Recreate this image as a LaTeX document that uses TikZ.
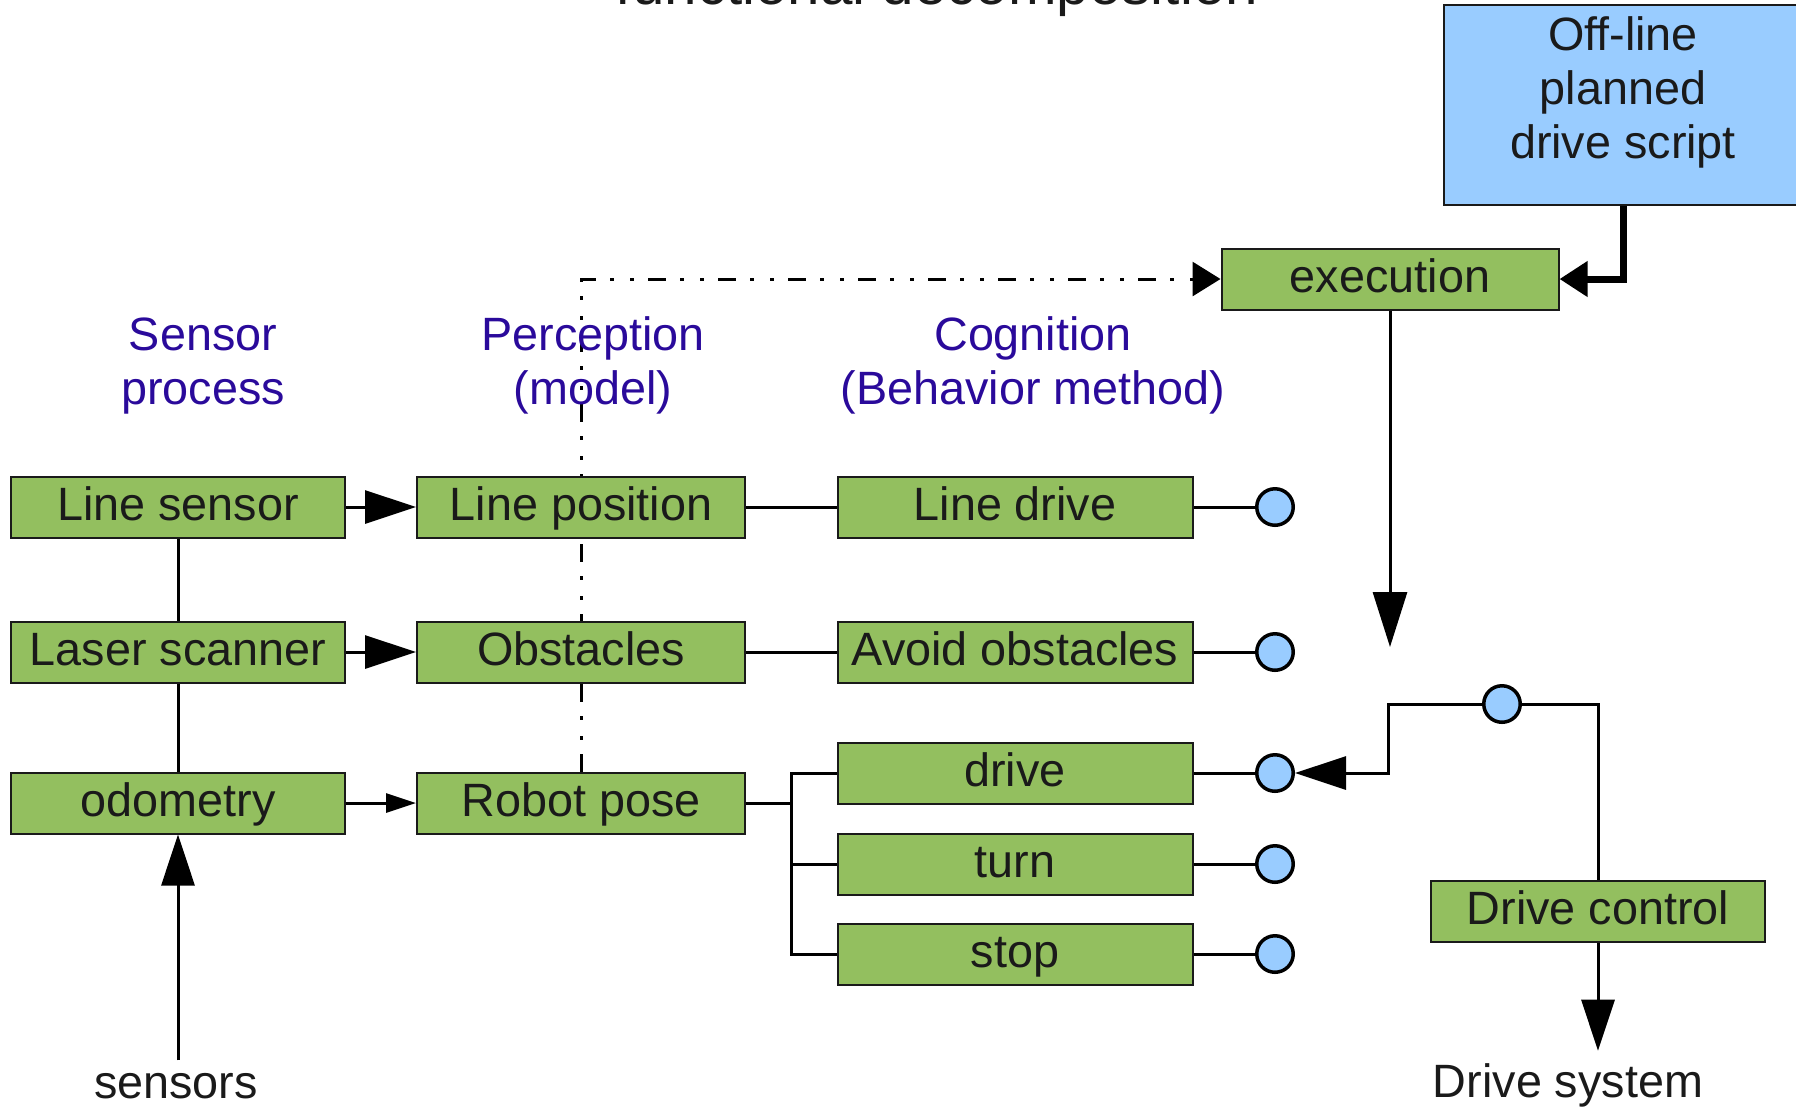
\documentclass[tikz,border=0pt]{standalone}
\usepackage{fontspec}
\setmainfont{Liberation Sans}
\usetikzlibrary{arrows.meta, backgrounds}
\definecolor{blockgreen}{HTML}{93BF5F}
\definecolor{scriptblue}{HTML}{99CCFF}
\definecolor{layerviolet}{HTML}{2A0A9B}
\definecolor{ink}{HTML}{1A1A1A}

\begin{document}
\begin{tikzpicture}[x=0.1mm, y=-0.1mm,
    every node/.style={font=\fontsize{13.3}{15.3}\selectfont, text=ink},
    block/.style={draw=ink, fill=blockgreen, line width=0.2mm, inner sep=0pt,
      minimum height=6.1mm, text height=0.78em, text depth=0.04em},
    port/.style={draw=black, circle, fill=scriptblue, line width=0.35mm,
      minimum size=3.65mm, inner sep=0pt},
    layer/.style={text=layerviolet, align=center, anchor=base},
    wire/.style={line width=0.3mm},
    fattip/.style={-{Triangle[length=5.1mm, width=3.3mm]}},
    thintip/.style={-{Triangle[length=3mm, width=1.9mm]}},
    stubtip/.style={-{Triangle[length=2.8mm, width=3.4mm]}}]
    \clip (0,0) rectangle (1796,1109);

    \node[anchor=base, font=\fontsize{16.6}{18}\selectfont] (title)
      at (937,4) {functional decomposition};

    % column headings (base = last line)
    \node[layer] (hSensor) at (203,404) {Sensor\\process};
    \node[layer] (hPercept) at (593,404) {Perception\\(model)};
    \node[layer] (hCognit) at (1033,404) {Cognition\\(Behavior method)};

    % sensor process
    \node[block, minimum width=33.4mm] (sLine) at (178,507) {Line sensor};
    \node[block, minimum width=33.4mm] (sLaser) at (178,652) {Laser scanner};
    \node[block, minimum width=33.4mm] (sOdo) at (178,803) {odometry};

    % perception
    \node[block, minimum width=32.8mm] (pLine) at (581,507) {Line position};
    \node[block, minimum width=32.8mm] (pObst) at (581,652) {Obstacles};
    \node[block, minimum width=32.8mm] (pPose) at (581,803) {Robot pose};

    % cognition
    \node[block, minimum width=35.5mm] (cLine) at (1015,507) {Line drive};
    \node[block, minimum width=35.5mm] (cAvoid) at (1015,652) {Avoid obstacles};
    \node[block, minimum width=35.5mm] (cDrive) at (1015,773) {drive};
    \node[block, minimum width=35.5mm] (cTurn) at (1015,864) {turn};
    \node[block, minimum width=35.5mm] (cStop) at (1015,954) {stop};

    \node[port] (oLine) at (1275,507) {};
    \node[port] (oAvoid) at (1275,652) {};
    \node[port] (oDrive) at (1275,773) {};
    \node[port] (oTurn) at (1275,864) {};
    \node[port] (oStop) at (1275,954) {};

    % planning and execution
    \node[draw=ink, fill=scriptblue, line width=0.2mm, align=center,
      text depth=3.5mm, minimum width=35.8mm, minimum height=19.6mm]
      (script) at (1623,105) {Off-line\\planned\\drive script};
    \node[block, minimum width=33.7mm] (exec) at (1390,279) {execution};
    \node[block, minimum width=33.4mm] (ctrl) at (1598,911) {Drive control};
    \node[port] (oCtrl) at (1502,704) {};

    \node[anchor=base] (sensorsIn) at (176,1098) {sensors};
    \node[anchor=base] (driveOut) at (1568,1097) {Drive system};
    \coordinate (execOut) at (1390,647);
    \coordinate (ctrlBend) at (1388,704);
    \coordinate (fork) at (791,803);

    \begin{scope}[on background layer]
      \draw[wire, stubtip, dash pattern=on 1.8mm off 1.4mm on 0.4mm off 1.6mm on 0.4mm off 1.4mm]
        (pPose.north) |- (exec.west);
    \end{scope}

    % sensor chain
    \draw[wire] (sLine) -- (sLaser) (sLaser) -- (sOdo);
    \draw[wire, fattip] (sensorsIn.north -| sOdo) -- (sOdo);
    \draw[wire, fattip] (sLine) -- (pLine);
    \draw[wire, fattip] (sLaser) -- (pObst);
    \draw[wire, thintip] (sOdo) -- (pPose);

    \draw[wire] (pLine) -- (cLine);
    \draw[wire] (pObst) -- (cAvoid);
    \draw[wire] (pPose) -- (fork) (cDrive.west) -| (fork) |- (cStop.west)
      (fork |- cTurn) -- (cTurn.west);
    \foreach \b/\o in {cLine/oLine, cAvoid/oAvoid, cDrive/oDrive, cTurn/oTurn, cStop/oStop}
      \draw[wire] (\b) -- (\o);

    % execution and drive control
    \draw[line width=0.7mm, stubtip] (script.south) |- (exec.east);
    \draw[wire, -{Triangle[length=5.5mm, width=3.4mm]}] (exec) -- (execOut);
    \draw[wire] (ctrl.north) |- (oCtrl.east);
    \draw[wire, fattip] (oCtrl.west) -- (ctrlBend) |- (oDrive.east);
    \draw[wire, fattip] (ctrl) -- (driveOut.north -| ctrl);
\end{tikzpicture}
\end{document}
